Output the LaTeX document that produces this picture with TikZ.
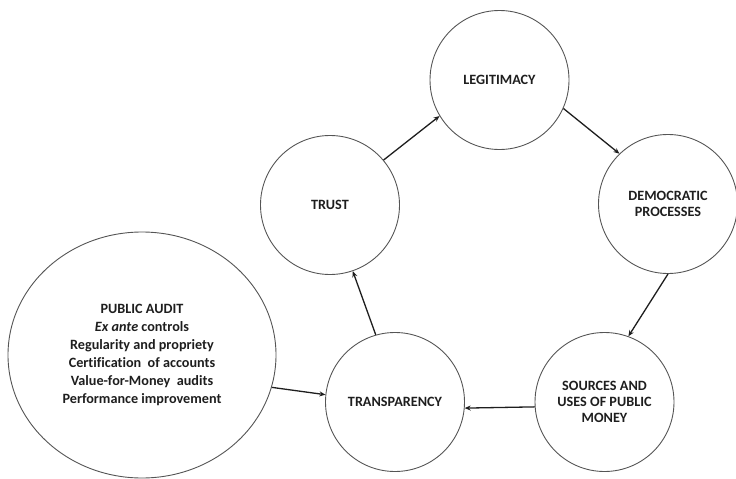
\documentclass[tikz,border=0pt]{standalone}
\usepackage{fontspec}
\setmainfont{Carlito}[Ligatures=NoCommon]
\usetikzlibrary{shapes.geometric,arrows.meta}
\definecolor{ring}{RGB}{85,85,85}
\definecolor{ink}{RGB}{30,30,30}
\tikzset{
  stage/.style={circle, draw=ring, line width=0.9pt, minimum size=139pt, inner sep=0pt,
    align=center, text=ink, font=\fontsize{14.2}{16}\selectfont\bfseries},
  hub/.style={ellipse, draw=ring, line width=0.9pt, minimum width=268pt, minimum height=246pt,
    inner sep=0pt, align=center, text=ink, font=\fontsize{14.2}{18}\selectfont\bfseries},
  flow/.style={draw=ink, line width=1.3pt, -{Stealth[length=6pt,width=5pt]}}
}
\begin{document}
\begin{tikzpicture}[x=1pt,y=-1pt]
\useasboundingbox (0,0) rectangle (736,479);

\node[stage] (legit)   at (499.5,80) {LEGITIMACY};
\node[stage] (trust)   at (330,205)  {TRUST};
\node[stage] (demo)    at (668,204)  {DEMOCRATIC\\PROCESSES};
\node[stage] (transp)  at (395,402)  {TRANSPARENCY};
\node[stage] (sources) at (604.5,402) {SOURCES AND\\USES OF PUBLIC\\MONEY};
\node[hub]   (audit)   at (142,355)  {PUBLIC AUDIT\\\textit{Ex ante} controls\\Regularity and propriety\\Certification\ \ of accounts\\Value-for-Money\ \ audits\\Performance improvement};

\draw[flow] (trust.40)    -- (legit.211);
\draw[flow] (legit.-24)   -- (demo.134);
\draw[flow] (demo.-90)    -- (sources.70);
\draw[flow] (sources.184) -- (transp.-5);
\draw[flow] (transp.106)  -- (trust.-71);
\draw[flow] (audit.-14)   -- (transp.174);
\end{tikzpicture}
\end{document}
